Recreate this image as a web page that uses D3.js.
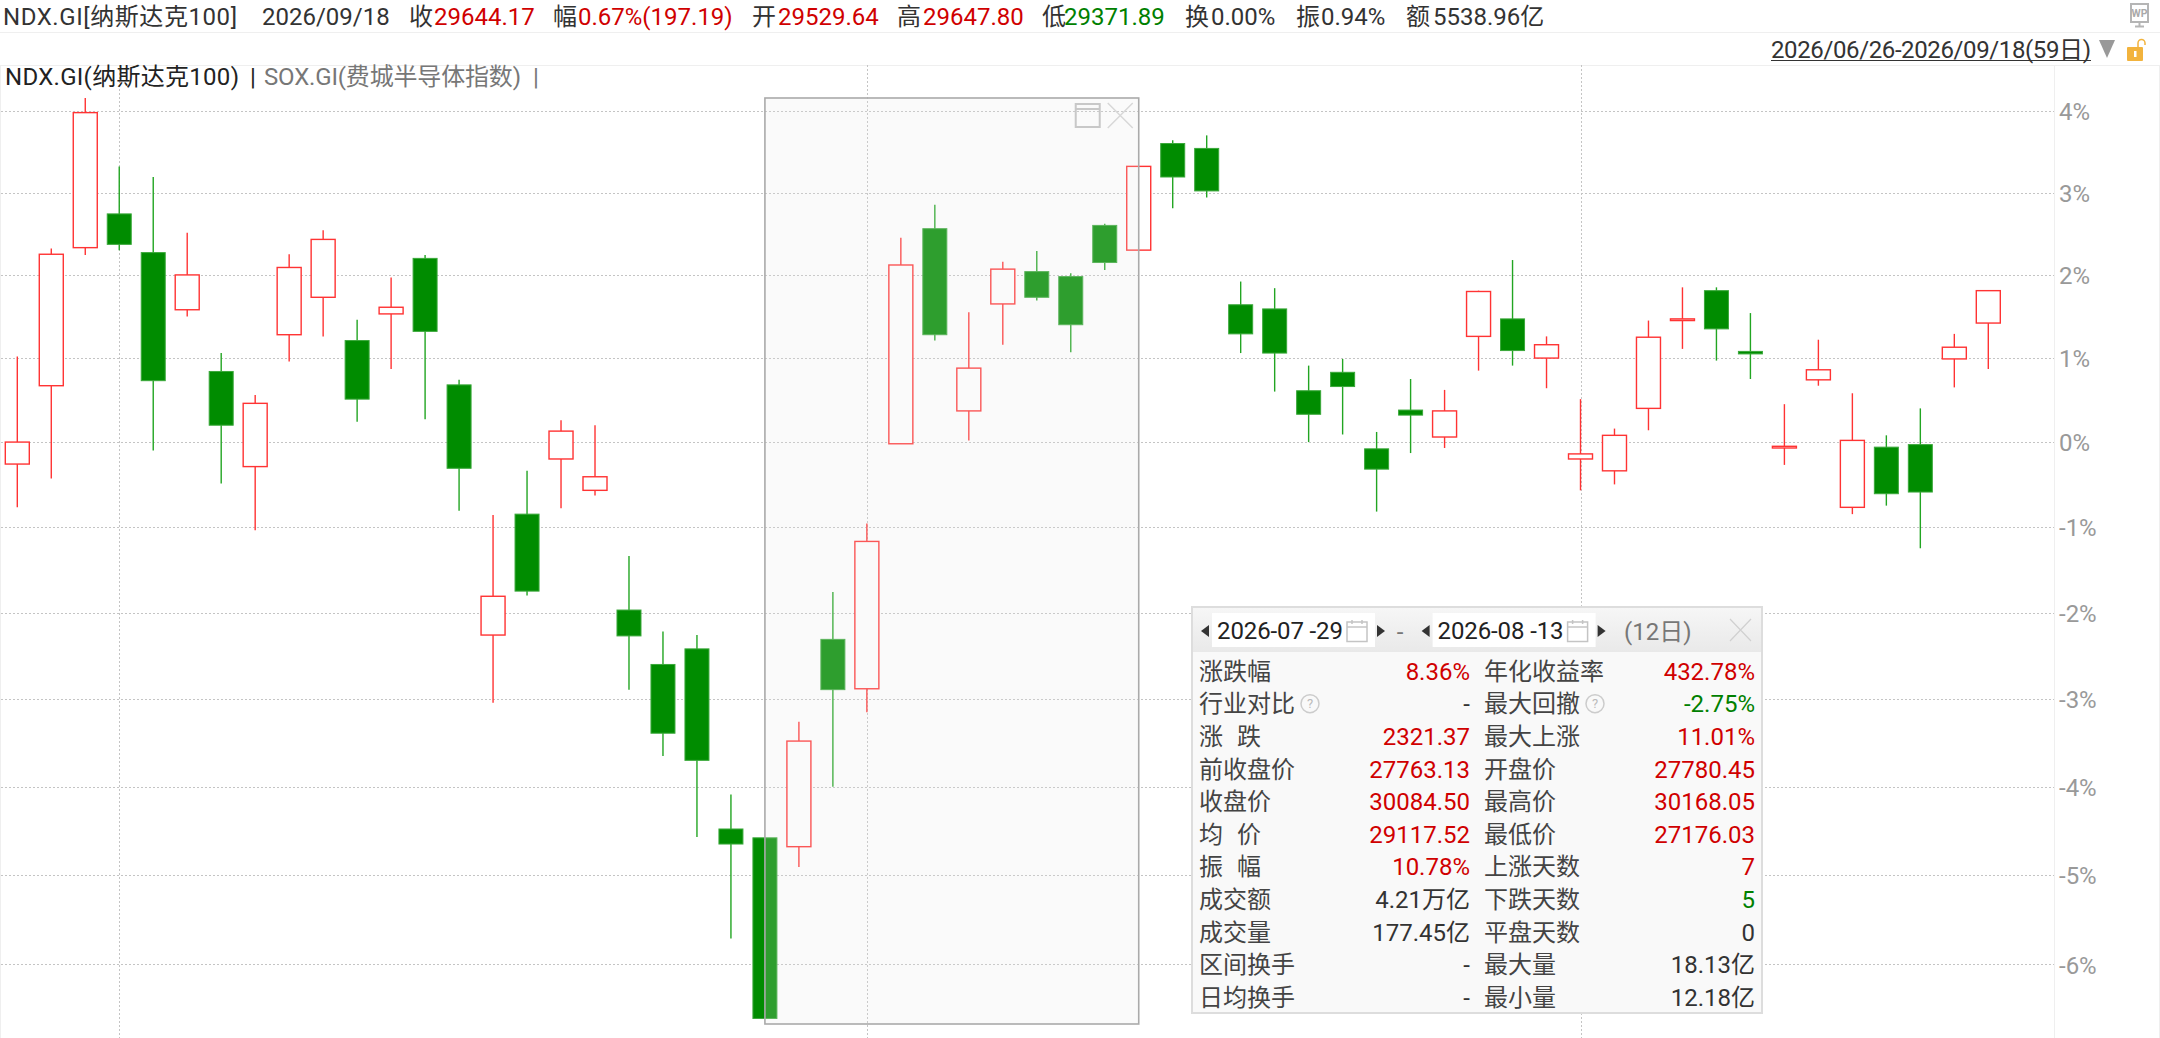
<!DOCTYPE html>
<html><head><meta charset="utf-8">
<script src="https://cdnjs.cloudflare.com/ajax/libs/d3/7.9.0/d3.min.js"></script>
<style>
html,body{margin:0;padding:0;background:#fff;overflow:hidden}
svg{display:block}
text{font-family:Roboto,"Noto Sans CJK SC","Noto Sans",sans-serif}
</style></head><body>
<svg id="c" width="2160" height="1038"></svg>
<script>
// ---------- data ----------
const dates = ["06-26","06-29","06-30","07-01","07-02","07-06","07-07","07-08","07-09","07-10","07-13","07-14","07-15","07-16","07-17","07-20","07-21","07-22","07-23","07-24","07-27","07-28","07-29","07-30","07-31","08-03","08-04","08-05","08-06","08-07","08-10","08-11","08-12","08-13","08-14","08-17","08-18","08-19","08-20","08-21","08-24","08-25","08-26","08-27","08-28","08-31","09-01","09-02","09-03","09-04","09-08","09-09","09-10","09-11","09-14","09-15","09-16","09-17","09-18"];
const opens  = [-0.26,0.67,2.33,2.74,2.27,1.58,0.84,-0.29,1.28,1.73,1.21,1.53,2.20,0.68,-2.26,-0.85,-0.20,-0.57,-1.97,-2.60,-2.42,-4.48,-4.58,-4.68,-2.31,-2.88,-0.02,2.56,0.37,1.65,2.04,1.98,2.60,2.30,3.60,3.54,1.64,1.59,0.61,0.83,-0.08,0.38,0.06,1.26,1.47,1.00,-0.20,-0.34,0.40,1.45,1.81,1.08,-0.07,0.74,-0.77,-0.06,-0.03,0.99,1.42];
const highs  = [1.02,2.32,4.16,3.32,3.19,2.51,1.06,0.56,2.25,2.54,1.46,1.97,2.24,0.74,-0.86,-0.34,0.26,0.20,-1.34,-2.22,-2.26,-4.09,-4.58,-3.26,-1.76,-0.96,2.45,2.85,1.55,2.16,2.29,2.02,2.62,3.32,3.64,3.70,1.92,1.84,0.91,0.99,0.12,0.75,0.62,1.81,2.18,1.26,0.51,0.16,1.45,1.85,1.85,1.54,0.45,1.22,0.58,0.08,0.40,1.29,1.81];
const lows   = [-0.77,-0.43,2.24,2.30,-0.10,1.50,-0.49,-1.04,0.96,1.26,0.24,0.87,0.27,-0.81,-3.04,-1.80,-0.78,-0.63,-2.89,-3.65,-4.57,-5.71,-6.60,-4.91,-4.00,-3.15,-0.02,1.21,0.02,1.16,1.69,1.07,2.06,2.30,2.81,2.94,1.06,0.60,0.00,0.09,-0.82,-0.13,-0.07,0.85,0.91,0.64,-0.57,-0.50,0.14,1.11,0.97,0.75,-0.27,0.67,-0.85,-0.75,-1.25,0.65,0.87];
const closes = [0.00,2.25,3.98,2.37,0.73,2.00,0.20,0.46,2.09,2.43,0.51,1.61,1.32,-0.31,-1.81,-1.75,0.13,-0.41,-2.27,-3.39,-3.70,-4.65,-6.60,-3.48,-2.89,-1.17,2.12,1.28,0.88,2.07,1.73,1.40,2.15,3.32,3.19,3.02,1.29,1.06,0.33,0.66,-0.32,0.32,0.37,1.80,1.09,1.16,-0.14,0.08,1.25,1.47,1.35,1.05,-0.05,0.86,0.02,-0.61,-0.59,1.13,1.81];
const yTicks = [4,3,2,1,0,-1,-2,-3,-4,-5,-6];
const monthStarts = ["07-01","08-03","09-01"];
const selStart = "07-29", selEnd = "08-13";

const headerTexts  = ["NDX.GI[纳斯达克100]","2026/09/18","收","29644.17","幅","0.67%(197.19)","开","29529.64","高","29647.80","低","29371.89","换","0.00%","振","0.94%","额","5538.96亿"];
const headerColors = ["d","d","d","r","d","r","d","r","d","r","d","g","d","d","d","d","d","d"];
const rangeText = "2026/06/26-2026/09/18(59日)";
const legendMain = "NDX.GI(纳斯达克100)", legendSecond = "SOX.GI(费城半导体指数)";
const panelDates = ["2026-07 -29","2026-08 -13"], panelDays = "(12日)";
const leftLabels  = ["涨跌幅","行业对比","涨 跌","前收盘价","收盘价","均 价","振 幅","成交额","成交量","区间换手","日均换手"];
const leftValues  = ["8.36%","-","2321.37","27763.13","30084.50","29117.52","10.78%","4.21万亿","177.45亿","-","-"];
const leftTones   = ["r","d","r","r","r","r","r","d","d","d","d"];
const rightLabels = ["年化收益率","最大回撤","最大上涨","开盘价","最高价","最低价","上涨天数","下跌天数","平盘天数","最大量","最小量"];
const rightValues = ["432.78%","-2.75%","11.01%","27780.45","30168.05","27176.03","7","5","0","18.13亿","12.18亿"];
const rightTones  = ["r","g","r","r","r","r","r","g","d","d","d"];

// ---------- styling / layout ----------
const tone = {d:"#333", r:"#d00000", g:"#008000"};
const UP = "#ff3333", DOWN = "#008c00", WICKDOWN = "#22a522";
const svg = d3.select("#c");
const W = 2160, H = 1038, axisX = 2054, plotTop = 65;
const FONT = 24;

const x = d3.scalePoint().domain(dates).range([17.3, 1988.3]);
const y = d3.scaleLog().domain([0.94, 1.04]).range([964.4, 111]);
const yP = p => y(1 + p / 100);
const bodyW = 24;

function txt(g, s, px, py, o = {}) {
  const t = g.append("text").attr("x", px).attr("y", py).attr("dy", o.dy ?? "0.36em")
    .attr("text-anchor", o.anchor || "start").attr("fill", o.fill || tone.d)
    .attr("font-size", o.size || FONT).text(s);
  if (o.len) t.attr("textLength", o.len).attr("lengthAdjust", "spacing");
  return t;
}

// frames
svg.append("rect").attr("width", W).attr("height", H).attr("fill", "#fff");
const frame = svg.append("g").attr("stroke", "#efefef").attr("stroke-width", 1);
frame.append("line").attr("x1", 0).attr("x2", W).attr("y1", 32.5).attr("y2", 32.5);
frame.append("line").attr("x1", 0).attr("x2", W).attr("y1", 65.5).attr("y2", 65.5);
frame.append("line").attr("x1", axisX + .5).attr("x2", axisX + .5).attr("y1", 65).attr("y2", H);
frame.append("line").attr("x1", .5).attr("x2", .5).attr("y1", 65).attr("y2", H);
frame.append("line").attr("x1", W - .5).attr("x2", W - .5).attr("y1", 65).attr("y2", H);

// grid
const grid = svg.append("g").attr("stroke", "#c4c4c4").attr("stroke-width", 1).attr("stroke-dasharray", "2,2").attr("fill", "none");
grid.selectAll("line.h").data(yTicks).join("line").attr("class", "h")
  .attr("x1", 1).attr("x2", axisX)
  .attr("y1", d => Math.round(yP(d)) + .5).attr("y2", d => Math.round(yP(d)) + .5);
grid.selectAll("line.v").data(monthStarts).join("line").attr("class", "v")
  .attr("x1", d => Math.round(x(d)) + .5).attr("x2", d => Math.round(x(d)) + .5)
  .attr("y1", plotTop).attr("y2", H);

// axis
const axis = d3.axisRight(y).tickValues(yTicks.map(p => 1 + p / 100))
  .tickFormat(v => Math.round((v - 1) * 100) + "%").tickSize(0).tickPadding(5);
const axG = svg.append("g").attr("transform", `translate(${axisX},1)`).call(axis);
axG.select(".domain").remove();
axG.selectAll("text").attr("fill", "#999").attr("font-size", 24).attr("font-family", 'Roboto,"Noto Sans CJK SC"');

// candles
const candles = dates.map((d, i) => ({d, o: opens[i], h: highs[i], l: lows[i], c: closes[i], up: closes[i] >= opens[i]}));
const cg = svg.append("g");
const items = cg.selectAll("g").data(candles).join("g");
items.append("line").attr("x1", d => x(d.d)).attr("x2", d => x(d.d))
  .attr("y1", d => yP(d.h)).attr("y2", d => yP(d.l))
  .attr("stroke", d => d.up ? UP : WICKDOWN).attr("stroke-width", 1.4);
items.append("rect")
  .attr("x", d => x(d.d) - bodyW / 2)
  .attr("width", bodyW)
  .attr("y", d => yP(Math.max(d.o, d.c)))
  .attr("height", d => Math.max(1, yP(Math.min(d.o, d.c)) - yP(Math.max(d.o, d.c))))
  .attr("fill", d => d.up ? "#fff" : DOWN)
  .attr("stroke", d => d.up ? UP : "#3aa83a")
  .attr("stroke-width", d => d.up ? 1.4 : 1);

// selection box
const bx0 = x(selStart), bx1 = x(selEnd), by0 = 98, by1 = 1024;
svg.append("rect").attr("x", bx0).attr("y", by0).attr("width", bx1 - bx0).attr("height", by1 - by0)
  .attr("fill", "rgba(228,228,228,0.2)").attr("stroke", "#aaa").attr("stroke-width", 1.6);
const ic = svg.append("g").attr("fill", "none");
ic.append("rect").attr("x", bx1 - 63).attr("y", 104).attr("width", 24).attr("height", 23).attr("stroke", "#c8c8c8").attr("stroke-width", 2);
ic.append("line").attr("x1", bx1 - 63).attr("x2", bx1 - 39).attr("y1", 109).attr("y2", 109).attr("stroke", "#c8c8c8").attr("stroke-width", 2);
ic.append("path").attr("d", `M${bx1 - 31} 103L${bx1 - 6} 128M${bx1 - 6} 103L${bx1 - 31} 128`).attr("stroke", "#d8d8d8").attr("stroke-width", 1.5);

// header row
const headerX = [3,262,409,434,553,578,752,778,897,923,1042,1064,1185,1211,1296,1321,1406,1433];
const hg = svg.append("g");
headerTexts.forEach((s, i) => txt(hg, s, headerX[i], 16, {fill: tone[headerColors[i]], len: i === 0 ? 234 : null}));

// WP icon
const wp = svg.append("g");
wp.append("rect").attr("x", 2131).attr("y", 4).attr("width", 17).attr("height", 18).attr("fill", "#fff").attr("stroke", "#b5b5b5").attr("stroke-width", 2);
wp.append("text").attr("x", 2139.5).attr("y", 17).attr("text-anchor", "middle").attr("font-size", 10.5).attr("font-weight", 700).attr("fill", "#aaa").text("WP");
wp.append("path").attr("d", "M2135 26.5H2144M2139.5 23V27").attr("stroke", "#b5b5b5").attr("stroke-width", 2);

// range selector
txt(svg, rangeText, 1771, 49, {fill: "#333", len: 320});
svg.append("line").attr("x1", 1771).attr("x2", 2091).attr("y1", 60.5).attr("y2", 60.5).attr("stroke", "#333").attr("stroke-width", 1);
svg.append("path").attr("d", "M2099 40H2115L2107 58Z").attr("fill", "#999");
svg.append("rect").attr("x", 2127).attr("y", 47).attr("width", 16).attr("height", 14).attr("rx", 1).attr("fill", "#f2b33d");
svg.append("rect").attr("x", 2134).attr("y", 51).attr("width", 2.5).attr("height", 6).attr("fill", "#fff");
svg.append("path").attr("d", "M2138 47V43a3.5 3.5 0 0 1 7 0V45").attr("fill", "none").attr("stroke", "#f2b33d").attr("stroke-width", 1.5);

// legend
const lg = svg.append("g");
txt(lg, legendMain, 5, 76, {fill: "#222", len: 234});
txt(lg, "|", 250, 76, {fill: "#222"});
txt(lg, legendSecond, 264, 76, {fill: "#777", len: 257});
txt(lg, "|", 533, 76, {fill: "#777"});

// stats panel
const px0 = 1192, px1 = 1762, py0 = 607, py1 = 1013, headB = 652;
const defs = svg.append("defs");
const gr = defs.append("linearGradient").attr("id", "hd").attr("x1", 0).attr("x2", 0).attr("y1", 0).attr("y2", 1);
gr.append("stop").attr("offset", 0).attr("stop-color", "#f6f6f6");
gr.append("stop").attr("offset", 1).attr("stop-color", "#e9e9e9");
const pg = svg.append("g");
pg.append("rect").attr("x", px0).attr("y", py0).attr("width", px1 - px0).attr("height", py1 - py0).attr("fill", "#f9f9f9").attr("stroke", "#ddd").attr("stroke-width", 2);
pg.append("rect").attr("x", px0 + 1).attr("y", py0 + 1).attr("width", px1 - px0 - 2).attr("height", headB - py0 - 1).attr("fill", "url(#hd)");
[1212, 1432.6].forEach((bx, k) => {
  pg.append("rect").attr("x", bx).attr("y", 613).attr("width", 163).attr("height", 34).attr("fill", "#fff");
  txt(pg, panelDates[k], bx + 5, 630, {fill: "#222", size: 24, len: 126});
  const c = pg.append("g").attr("fill", "none").attr("stroke", "#c4c4c4").attr("stroke-width", 1.5);
  c.append("rect").attr("x", bx + 135).attr("y", 622).attr("width", 20).attr("height", 19.5);
  c.append("line").attr("x1", bx + 135).attr("x2", bx + 155).attr("y1", 627).attr("y2", 627);
  c.append("path").attr("d", `M${bx + 140} 620V624M${bx + 150} 620V624`);
  pg.append("path").attr("d", `M${bx - 3} 625V637L${bx - 11} 631Z`).attr("fill", "#333");
  pg.append("path").attr("d", `M${bx + 165} 625V637L${bx + 173} 631Z`).attr("fill", "#333");
});
txt(pg, "-", 1400, 631, {fill: "#777", anchor: "middle"});
txt(pg, panelDays, 1624, 631, {fill: "#777"});
pg.append("path").attr("d", "M1730 619L1751 641M1751 619L1730 641").attr("stroke", "#d0d0d0").attr("stroke-width", 1.2);

const rowY = d3.scalePoint().domain(d3.range(leftLabels.length)).range([671, 997.3]);
function label(s, lx, ry) {
  const parts = s.split(" ");
  if (parts.length === 2) { txt(pg, parts[0], lx, ry, {fill: "#444"}); txt(pg, parts[1], lx + 38, ry, {fill: "#444"}); }
  else txt(pg, s, lx, ry, {fill: "#444"});
}
function hint(cx, ry) {
  pg.append("circle").attr("cx", cx).attr("cy", ry).attr("r", 9).attr("fill", "none").attr("stroke", "#ccc").attr("stroke-width", 1.5);
  pg.append("text").attr("x", cx).attr("y", ry).attr("dy", "0.36em").attr("text-anchor", "middle").attr("font-size", 13).attr("fill", "#bbb").text("?");
}
leftLabels.forEach((s, i) => {
  const ry = rowY(i);
  label(s, 1199, ry);
  txt(pg, leftValues[i], 1470, ry, {anchor: "end", fill: tone[leftTones[i]]});
  label(rightLabels[i], 1484, ry);
  txt(pg, rightValues[i], 1755, ry, {anchor: "end", fill: tone[rightTones[i]]});
});
hint(1310, rowY(1));
hint(1595, rowY(1));
</script>
</body></html>
